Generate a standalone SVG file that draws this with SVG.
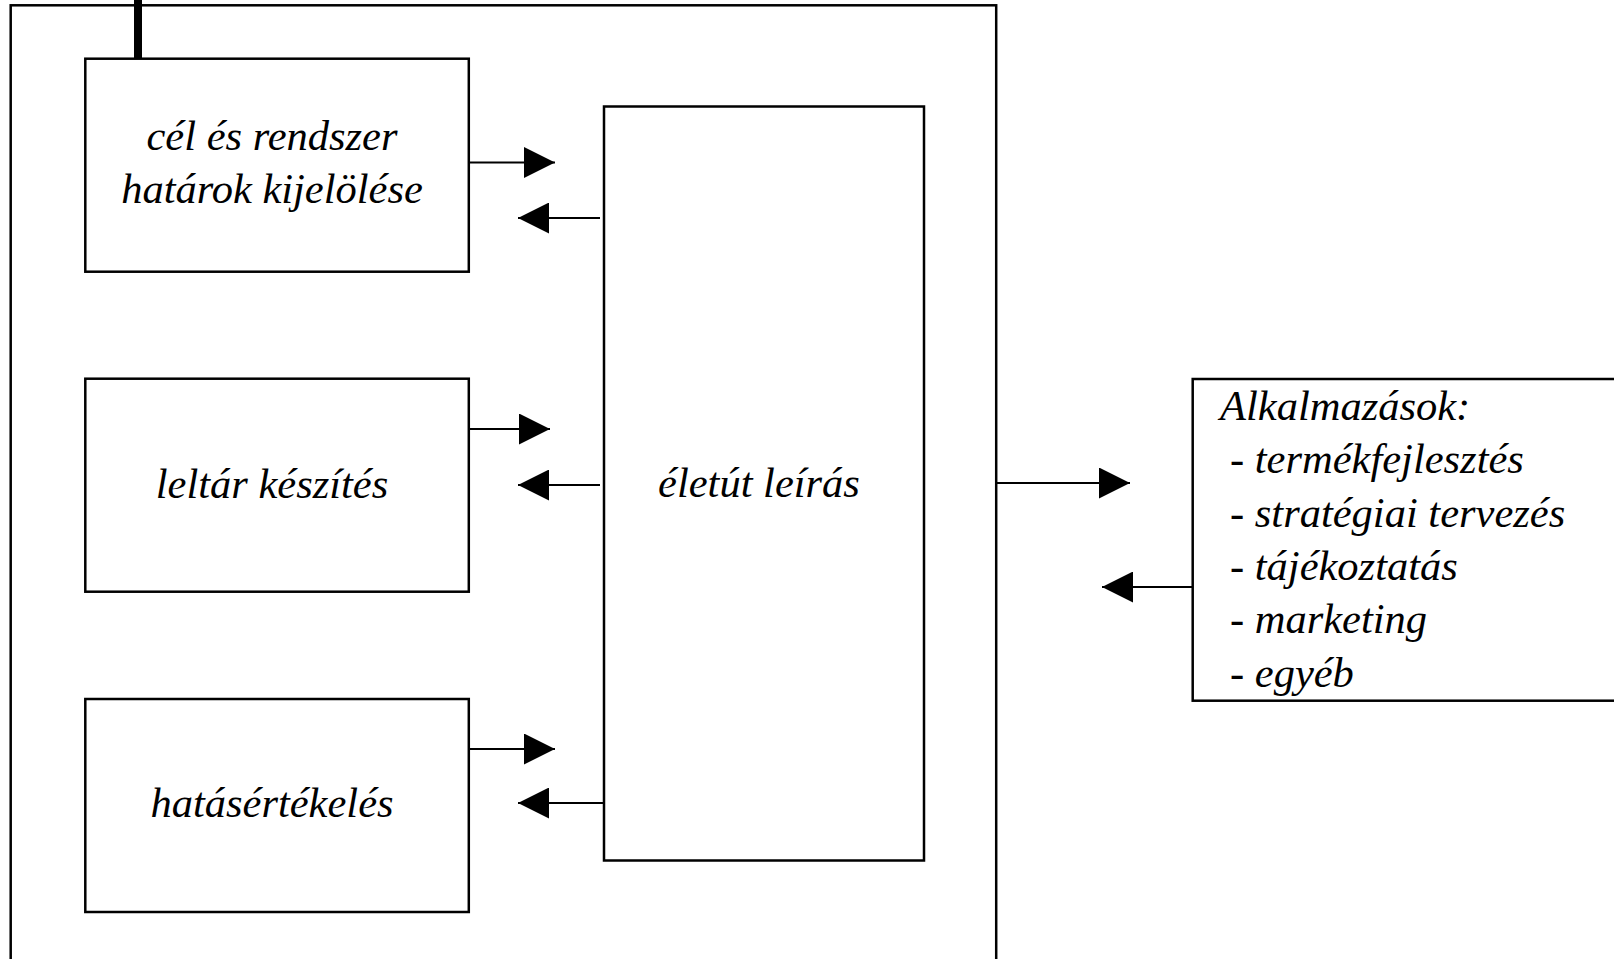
<svg xmlns="http://www.w3.org/2000/svg" width="1614" height="959" viewBox="0 0 1614 959">
  <style>
    .box { fill: #ffffff; stroke: #000000; stroke-width: 2.5; }
    .frame { fill: none; stroke: #000000; stroke-width: 2.5; }
    .conn { fill: none; stroke: #000000; stroke-width: 2.2; marker-end: url(#head); }
    .lbl { font-family: "Liberation Serif", "Times New Roman", serif; font-style: italic; font-size: 42.5px; fill: #000000; }
    .mid { text-anchor: middle; }
  </style>
  <defs>
    <marker id="head" markerUnits="userSpaceOnUse" markerWidth="32" markerHeight="31" refX="31" refY="15.5" orient="auto">
      <path d="M0,0 L31,15.5 L0,31 Z" fill="#000000"/>
    </marker>
  </defs>
  <rect width="1614" height="959" fill="#ffffff"/>

  <!-- enclosing system frame -->
  <g id="frame">
    <rect class="frame" x="10.7" y="5.3" width="985.5" height="1000"/>
    <line x1="138" y1="0" x2="138" y2="59" stroke="#000000" stroke-width="8"/>
  </g>

  <g id="node-cel">
    <rect class="box" x="85.3" y="58.7" width="383.5" height="213"/>
    <text class="lbl mid" x="272" y="150">cél és rendszer</text>
    <text class="lbl mid" x="272" y="203.3">határok kijelölése</text>
  </g>

  <g id="node-leltar">
    <rect class="box" x="85.3" y="378.7" width="383.5" height="213"/>
    <text class="lbl mid" x="272" y="498">leltár készítés</text>
  </g>

  <g id="node-hatas">
    <rect class="box" x="85.3" y="699" width="383.5" height="213"/>
    <text class="lbl mid" x="272" y="817">hatásértékelés</text>
  </g>

  <g id="node-eletut">
    <rect class="box" x="604" y="106.5" width="320" height="754"/>
    <text class="lbl mid" x="759" y="497">életút leírás</text>
  </g>

  <g id="node-alkalmazasok">
    <rect class="box" x="1192.7" y="379" width="450" height="321.7"/>
    <text class="lbl" x="1220" y="420">Alkalmazások:</text>
    <text class="lbl" x="1230" y="473.3">- termékfejlesztés</text>
    <text class="lbl" x="1230" y="526.6">- stratégiai tervezés</text>
    <text class="lbl" x="1230" y="580">- tájékoztatás</text>
    <text class="lbl" x="1230" y="633.3">- marketing</text>
    <text class="lbl" x="1230" y="686.6">- egyéb</text>
  </g>

  <g id="connectors">
    <line class="conn" x1="469" y1="162.5" x2="555" y2="162.5"/>
    <line class="conn" x1="600" y1="218" x2="518" y2="218"/>
    <line class="conn" x1="469" y1="429" x2="550" y2="429"/>
    <line class="conn" x1="600" y1="485" x2="518" y2="485"/>
    <line class="conn" x1="469" y1="749" x2="555" y2="749"/>
    <line class="conn" x1="604" y1="803" x2="518" y2="803"/>
    <line class="conn" x1="996" y1="483" x2="1130" y2="483"/>
    <line class="conn" x1="1192" y1="587" x2="1102" y2="587"/>
  </g>
</svg>
